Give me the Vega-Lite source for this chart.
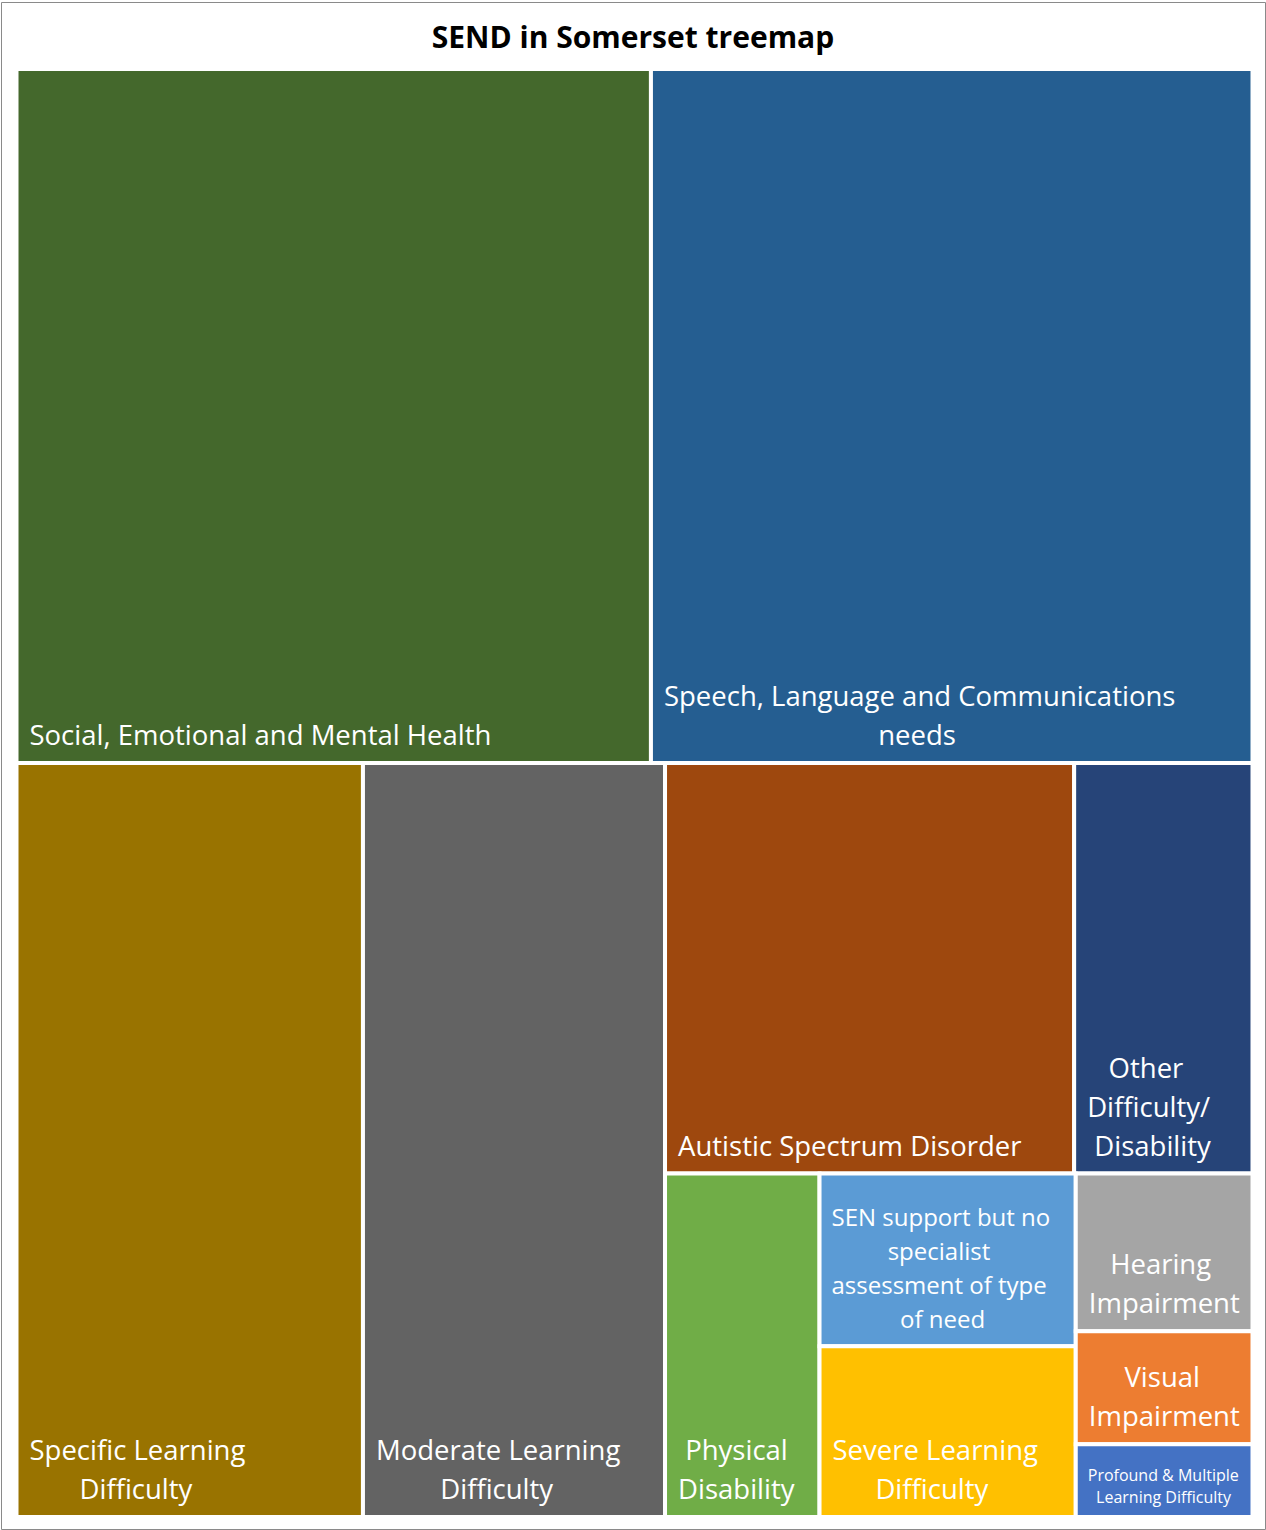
{
  "$schema": "https://vega.github.io/schema/vega-lite/v6.json",
  "width": 1264,
  "height": 1527,
  "autosize": {"type": "none"},
  "padding": {"left": 1, "top": 2, "right": 1, "bottom": 1},
  "background": "white",
  "title": {"text": "SEND in Somerset treemap", "anchor": "middle", "font": "Open Sans", "fontSize": 30, "fontWeight": "bold", "color": "black", "offset": -76, "baseline": "alphabetic"},
  "config": {"view": {"stroke": "#8a8a8a", "strokeWidth": 1}},
  "data": {
    "values": [
      {"cat": "Social, Emotional and Mental Health", "share": 24.6, "x0": 0, "x1": 51.33, "y0": 0, "y1": 47.93, "label": ["Social, Emotional and Mental Health"]},
      {"cat": "Speech, Language and Communications needs", "share": 23.3, "x0": 51.33, "x1": 100, "y0": 0, "y1": 47.93, "label": ["Speech, Language and Communications", "\u200b\u00a0\u00a0\u00a0\u00a0\u00a0\u00a0\u00a0\u00a0\u00a0\u00a0\u00a0\u00a0\u00a0\u00a0\u00a0\u00a0\u00a0\u00a0\u00a0\u00a0\u00a0\u00a0\u00a0\u00a0\u00a0\u00a0\u00a0\u00a0\u00a0\u00a0needs"]},
      {"cat": "Specific Learning Difficulty", "share": 14.6, "x0": 0, "x1": 28.03, "y0": 47.93, "y1": 100, "label": ["Specific Learning", "\u200b\u00a0\u00a0\u00a0\u00a0\u00a0\u00a0\u00a0Difficulty"]},
      {"cat": "Moderate Learning Difficulty", "share": 12.7, "x0": 28.03, "x1": 52.47, "y0": 47.93, "y1": 100, "label": ["Moderate Learning", "\u200b\u00a0\u00a0\u00a0\u00a0\u00a0\u00a0\u00a0\u00a0\u00a0Difficulty"]},
      {"cat": "Autistic Spectrum Disorder", "share": 9.4, "x0": 52.47, "x1": 85.57, "y0": 47.93, "y1": 76.28, "label": ["Autistic Spectrum Disorder"]},
      {"cat": "Other Difficulty/Disability", "share": 4.1, "x0": 85.57, "x1": 100, "y0": 47.93, "y1": 76.28, "label": ["\u200b\u00a0\u00a0\u00a0Other", "Difficulty/", "\u200b\u00a0Disability"]},
      {"cat": "Physical Disability", "share": 3.0, "x0": 52.47, "x1": 64.97, "y0": 76.28, "y1": 100, "label": ["\u200b\u00a0Physical", "Disability"]},
      {"cat": "SEN support but no specialist assessment of type of need", "share": 2.5, "x0": 64.97, "x1": 85.7, "y0": 76.28, "y1": 88.21, "label": ["SEN support but no", "\u200b\u00a0\u00a0\u00a0\u00a0\u00a0\u00a0\u00a0\u00a0\u00a0specialist", "assessment of type", "\u200b\u00a0\u00a0\u00a0\u00a0\u00a0\u00a0\u00a0\u00a0\u00a0\u00a0\u00a0of need"]},
      {"cat": "Severe Learning Difficulty", "share": 2.4, "x0": 64.97, "x1": 85.7, "y0": 88.21, "y1": 100, "label": ["Severe Learning", "\u200b\u00a0\u00a0\u00a0\u00a0\u00a0\u00a0Difficulty"]},
      {"cat": "Hearing Impairment", "share": 1.6, "x0": 85.7, "x1": 100, "y0": 76.28, "y1": 87.17, "label": ["\u200b\u00a0\u00a0\u00a0Hearing", "Impairment"]},
      {"cat": "Visual Impairment", "share": 1.1, "x0": 85.7, "x1": 100, "y0": 87.17, "y1": 94.97, "label": ["\u200b\u00a0\u00a0\u00a0\u00a0\u00a0Visual", "Impairment"]},
      {"cat": "Profound & Multiple Learning Difficulty", "share": 0.7, "x0": 85.7, "x1": 100, "y0": 94.97, "y1": 100, "label": ["Profound & Multiple", "\u200b\u00a0\u00a0Learning Difficulty"]}
    ]
  },
  "layer": [
    {
      "mark": {"type": "rect", "stroke": "white", "strokeWidth": 4},
      "encoding": {
        "x": {"field": "x0", "type": "quantitative", "scale": {"domain": [-1.25405, 101.0113], "nice": false, "zero": false}, "axis": null},
        "x2": {"field": "x1"},
        "y": {"field": "y0", "type": "quantitative", "scale": {"domain": [-4.62707, 100.8287], "reverse": true, "nice": false, "zero": false}, "axis": null},
        "y2": {"field": "y1"},
        "color": {
          "field": "cat", "type": "nominal", "legend": null,
          "scale": {
            "domain": ["Social, Emotional and Mental Health", "Speech, Language and Communications needs", "Specific Learning Difficulty", "Moderate Learning Difficulty", "Autistic Spectrum Disorder", "Other Difficulty/Disability", "Physical Disability", "SEN support but no specialist assessment of type of need", "Severe Learning Difficulty", "Hearing Impairment", "Visual Impairment", "Profound & Multiple Learning Difficulty"],
            "range": ["#44682C", "#255E91", "#997300", "#636363", "#9E480E", "#264478", "#70AD47", "#5B9BD5", "#FFC000", "#A5A5A5", "#ED7D31", "#4472C4"]
          }
        },
        "tooltip": [{"field": "cat", "type": "nominal"}, {"field": "share", "type": "quantitative"}]
      }
    },
    {
      "transform": [{"filter": "length(datum.label) == 1"}],
      "mark": {"type": "text", "font": "Open Sans", "fontSize": 27.5, "lineHeight": 39, "color": "white", "align": "left", "baseline": "bottom", "dx": 13, "dy": -12},
      "encoding": {
        "x": {"field": "x0", "type": "quantitative"},
        "y": {"field": "y1", "type": "quantitative"},
        "text": {"field": "label"}
      }
    },
    {
      "transform": [{"filter": "length(datum.label) == 2 && datum.cat != 'Profound & Multiple Learning Difficulty'"}],
      "mark": {"type": "text", "font": "Open Sans", "fontSize": 27.5, "lineHeight": 39, "color": "white", "align": "left", "baseline": "bottom", "dx": 13, "dy": -51},
      "encoding": {
        "x": {"field": "x0", "type": "quantitative"},
        "y": {"field": "y1", "type": "quantitative"},
        "text": {"field": "label"}
      }
    },
    {
      "transform": [{"filter": "length(datum.label) == 3"}],
      "mark": {"type": "text", "font": "Open Sans", "fontSize": 27.5, "lineHeight": 39, "color": "white", "align": "left", "baseline": "bottom", "dx": 13, "dy": -90},
      "encoding": {
        "x": {"field": "x0", "type": "quantitative"},
        "y": {"field": "y1", "type": "quantitative"},
        "text": {"field": "label"}
      }
    },
    {
      "transform": [{"filter": "length(datum.label) == 4"}],
      "mark": {"type": "text", "font": "Open Sans", "fontSize": 24, "lineHeight": 34, "color": "white", "align": "left", "baseline": "bottom", "dx": 12, "dy": -115},
      "encoding": {
        "x": {"field": "x0", "type": "quantitative"},
        "y": {"field": "y1", "type": "quantitative"},
        "text": {"field": "label"}
      }
    },
    {
      "transform": [{"filter": {"field": "cat", "equal": "Profound & Multiple Learning Difficulty"}}],
      "mark": {"type": "text", "font": "Open Sans", "fontSize": 16, "lineHeight": 22, "color": "white", "align": "left", "baseline": "bottom", "dx": 12, "dy": -33},
      "encoding": {
        "x": {"field": "x0", "type": "quantitative"},
        "y": {"field": "y1", "type": "quantitative"},
        "text": {"field": "label"}
      }
    }
  ]
}
